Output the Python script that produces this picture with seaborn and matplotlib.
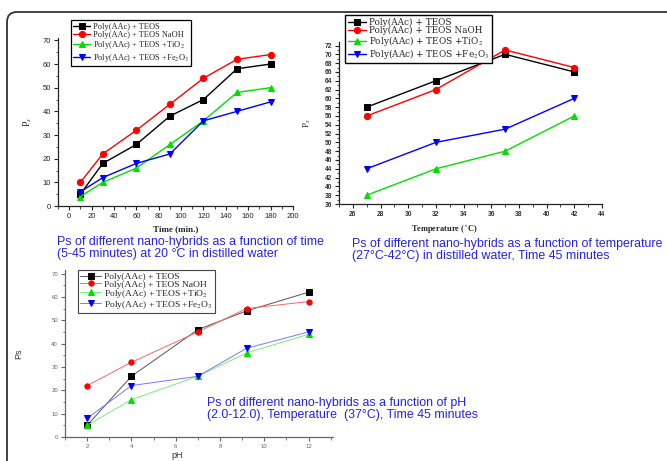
import matplotlib
matplotlib.use("Agg")
import matplotlib.pyplot as plt
import matplotlib.transforms as mtransforms
from matplotlib.patches import FancyBboxPatch
from matplotlib.ticker import AutoMinorLocator, MultipleLocator
import seaborn as sns

# Series labels
labels = [
    "Poly(AAc) + TEOS",
    "Poly(AAc) + TEOS NaOH",
    "Poly(AAc) + TEOS +TiO$_2$",
    "Poly(AAc) + TEOS +Fe$_2$O$_3$",
]
colors = ["#000000", "#ff0000", "#00e000", "#0000ff"]
markers = ["s", "o", "^", "v"]

# Time chart
time_min = [10, 30, 60, 90, 120, 150, 180]
time_teos = [5, 18, 26, 38, 45, 58, 60]
time_naoh = [10, 22, 32, 43, 54, 62, 64]
time_tio2 = [4, 10, 16, 26, 36, 48, 50]
time_fe2o3 = [6, 12, 18, 22, 36, 40, 44]

# Temperature chart
temp_c = [27, 32, 37, 42]
temp_teos = [58, 64, 70, 66]
temp_naoh = [56, 62, 71, 67]
temp_tio2 = [38, 44, 48, 56]
temp_fe2o3 = [44, 50, 53, 60]

# pH chart
ph = [2, 4, 7, 9.2, 12]
ph_teos = [5, 26, 46, 54, 62]
ph_naoh = [22, 32, 45, 55, 58]
ph_tio2 = [5, 16, 26, 36, 44]
ph_fe2o3 = [8, 22, 26, 38, 45]

sns.set_style("ticks")
plt.rcParams["font.family"] = ["Liberation Sans", "DejaVu Sans"]
plt.rcParams["mathtext.fontset"] = "stix"

W, H = 667, 461
fig = plt.figure(figsize=(W / 100, H / 100), dpi=100)


def px_axes(left, top, right, bottom):
    return fig.add_axes([left / W, 1 - bottom / H, (right - left) / W, (bottom - top) / H])


def style_axes(ax, tick_size, tick_color, weight="normal"):
    sns.despine(ax=ax)
    ax.xaxis.set_minor_locator(AutoMinorLocator(2))
    ax.yaxis.set_minor_locator(AutoMinorLocator(2))
    ax.tick_params(which="major", length=3, width=0.8, labelsize=tick_size,
                   labelcolor=tick_color, color="#222222", pad=2)
    ax.tick_params(which="minor", length=1.8, width=0.6, color="#222222")
    for lab in ax.get_xticklabels() + ax.get_yticklabels():
        lab.set_fontweight(weight)
    for sp in ax.spines.values():
        sp.set_linewidth(0.9)
        sp.set_color("#222222")


serif = ["Liberation Serif", "DejaVu Serif"]

# ---- chart 1: time ----
ax1 = px_axes(58, 38, 293, 206)
for y, lab, c, m in zip([time_teos, time_naoh, time_tio2, time_fe2o3], labels, colors, markers):
    sns.lineplot(x=time_min, y=y, ax=ax1, color=c, marker=m, markersize=4.5,
                 markeredgecolor=c, linewidth=1.0, label=lab)
ax1.set_xlim(-10, 200)
ax1.set_ylim(0, 71)
ax1.xaxis.set_major_locator(MultipleLocator(20))
ax1.yaxis.set_major_locator(MultipleLocator(10))
style_axes(ax1, 5.5, "#222222")
ax1.set_xlabel("Time (min.)", family=serif, fontsize=6.5, fontweight="bold", labelpad=4)
ax1.set_ylabel("P$_s$", family=serif, fontsize=7, labelpad=6)
leg = ax1.legend(loc="upper left", bbox_to_anchor=(0.055, 1.107), borderaxespad=0,
                 fancybox=False, edgecolor="black", framealpha=1,
                 prop={"family": serif, "size": 6},
                 handlelength=2.0, borderpad=0.3, labelspacing=0.05, handletextpad=0.3)
leg.get_frame().set_linewidth(0.9)

# ---- chart 2: temperature ----
ax2 = px_axes(339, 42, 602, 204)
for y, lab, c, m in zip([temp_teos, temp_naoh, temp_tio2, temp_fe2o3], labels, colors, markers):
    sns.lineplot(x=temp_c, y=y, ax=ax2, color=c, marker=m, markersize=4.5,
                 markeredgecolor=c, linewidth=1.0, label=lab)
ax2.set_xlim(25, 44)
ax2.set_ylim(36, 72.8)
ax2.xaxis.set_major_locator(MultipleLocator(2))
ax2.yaxis.set_major_locator(MultipleLocator(2))
style_axes(ax2, 4.8, "#333333", weight="bold")
ax2.set_xlabel("Temperature ($^\\circ$C)", family=serif, fontsize=6, fontweight="bold")
ax2.xaxis.set_label_coords(0.40, -0.12)
ax2.set_ylabel("P$_s$", family=serif, fontsize=6.5, labelpad=8)
leg = ax2.legend(loc="upper left", bbox_to_anchor=(0.023, 1.167), borderaxespad=0,
                 fancybox=False, edgecolor="black", framealpha=1,
                 prop={"family": ["DejaVu Serif"], "size": 6.4},
                 handlelength=2.1, borderpad=0.3, labelspacing=-0.12, handletextpad=0.3)
leg.get_frame().set_linewidth(1.0)

# ---- chart 3: pH ----
ax3 = px_axes(65, 270, 333, 437)
light = ["#555555", "#ff6666", "#77ee77", "#7777ff"]
for y, lab, c, lc, m in zip([ph_teos, ph_naoh, ph_tio2, ph_fe2o3], labels, colors, light, markers):
    sns.lineplot(x=ph, y=y, ax=ax3, color=lc, marker=m, markersize=3.8,
                 markerfacecolor=c, markeredgecolor=c, linewidth=0.7, label=lab)
ax3.set_xlim(1, 13.1)
ax3.set_ylim(0, 71.5)
ax3.xaxis.set_major_locator(MultipleLocator(2))
ax3.yaxis.set_major_locator(MultipleLocator(10))
style_axes(ax3, 4.3, "#666666")
ax3.tick_params(which="both", color="#666666")
for sp in ax3.spines.values():
    sp.set_color("#666666")
ax3.set_xlabel("pH", fontsize=6.5, color="#333333")
ax3.xaxis.set_label_coords(0.42, -0.085)
ax3.set_ylabel("Ps", fontsize=6.5, color="#333333", labelpad=20)
leg = ax3.legend(loc="upper left", bbox_to_anchor=(0.049, 1.0), borderaxespad=0,
                 fancybox=False, edgecolor="#444444", framealpha=1,
                 prop={"family": serif, "size": 6.8},
                 handlelength=2.2, borderpad=0.25, labelspacing=-0.1, handletextpad=0.3)
leg.get_frame().set_linewidth(0.8)

# ---- captions ----
blue = "#2323e6"
cap = dict(color=blue, fontsize=8.9, family=["Liberation Sans", "DejaVu Sans"],
           va="top", linespacing=1.0)
fig.text(57 / W, 1 - 236 / H, "Ps of different nano-hybrids as a function of time\n"
         "(5-45 minutes) at 20 \u00b0C in distilled water", **cap)
fig.text(352 / W, 1 - 238 / H, "Ps of different nano-hybrids as a function of temperature\n"
         "(27\u00b0C-42\u00b0C) in distilled water, Time 45 minutes", **cap)
fig.text(207 / W, 1 - 397 / H, "Ps of different nano-hybrids as a function of pH\n"
         "(2.0-12.0), Temperature  (37\u00b0C), Time 45 minutes", **cap)

# ---- rounded frame ----
frame = FancyBboxPatch((7, -40), 700, H - 12 + 40,
                       boxstyle="round,pad=0,rounding_size=10",
                       transform=mtransforms.IdentityTransform(),
                       fill=False, edgecolor="#333333", linewidth=1.3)
fig.add_artist(frame)

fig.savefig("out.png", dpi=100)
